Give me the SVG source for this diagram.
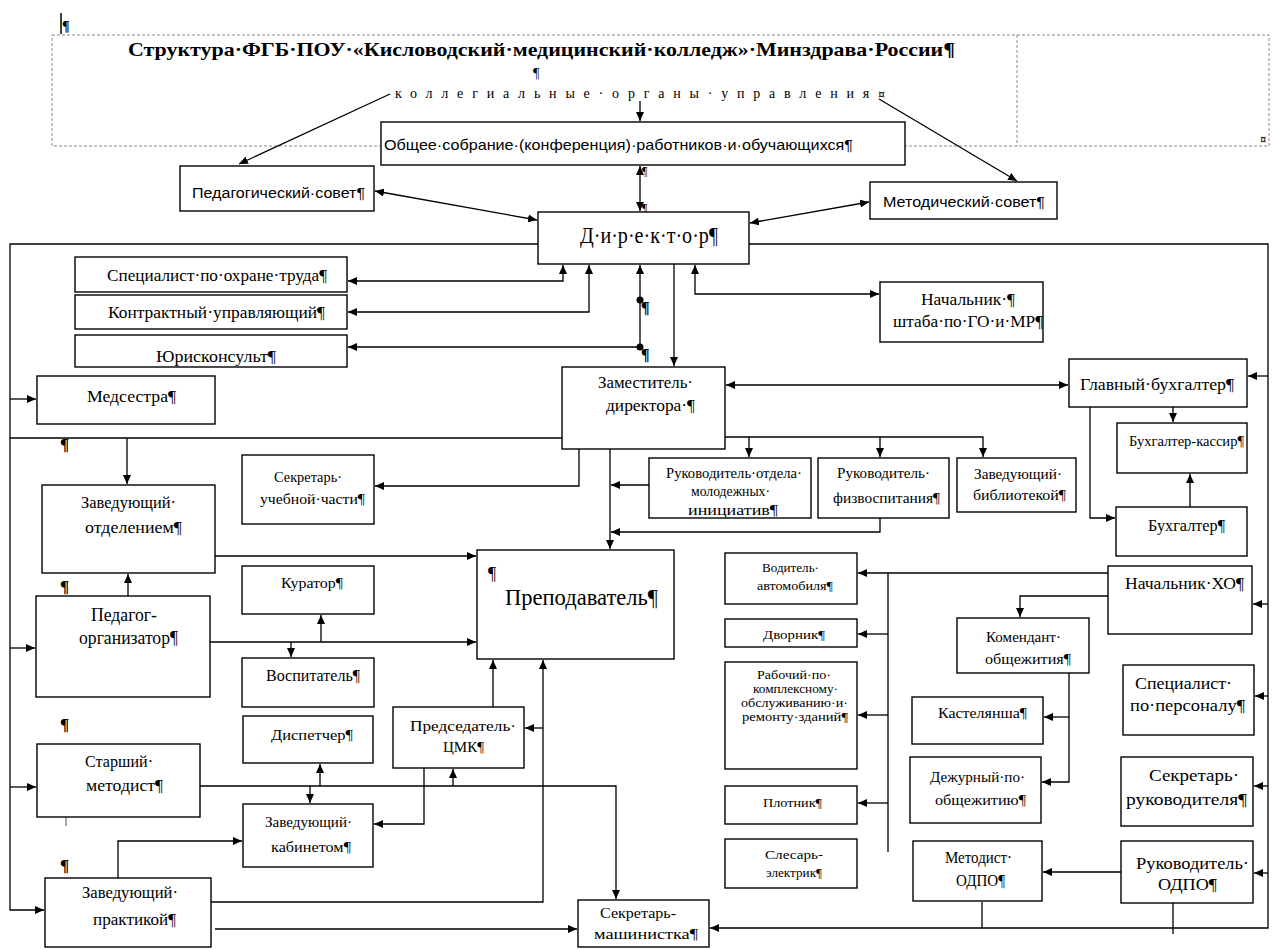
<svg xmlns="http://www.w3.org/2000/svg" width="1272" height="950" viewBox="0 0 1272 950">
<defs>
<style>
.s{font-family:"Liberation Serif","Times New Roman",serif;fill:#000}
.ss{font-family:"Liberation Sans",Arial,sans-serif;fill:#000}
.cur{font-family:"DejaVu Sans",sans-serif;fill:#000}
.box{fill:#fff;stroke:#000;stroke-width:1.4}
.ln{fill:none;stroke:#000;stroke-width:1.3}
.a{marker-end:url(#ah)}
.d{marker-start:url(#ah);marker-end:url(#ah)}
.dash{fill:none;stroke:#8a8a8a;stroke-width:1;stroke-dasharray:3 2}
</style>
<marker id="ah" viewBox="0 0 10 10" refX="10" refY="5" markerWidth="9" markerHeight="8" markerUnits="userSpaceOnUse" orient="auto-start-reverse" preserveAspectRatio="none">
<path d="M0,0 L10,5 L0,10 z" fill="#000"/>
</marker>
</defs>
<rect width="1272" height="950" fill="#fff"/>

<g id="header">
<line x1="61" y1="13" x2="61" y2="34" stroke="#000" stroke-width="1.5"/>
<text class="s" x="62" y="31" font-size="14" font-weight="bold">¶</text>
<rect class="dash" x="52" y="35" width="1217" height="111"/>
<line class="dash" x1="1017" y1="35" x2="1017" y2="146"/>
<text class="s" x="128" y="56" font-size="19" font-weight="bold" textLength="827" lengthAdjust="spacingAndGlyphs">Структура·ФГБ·ПОУ·«Кисловодский·медицинский·колледж»·Минздрава·России¶</text>
<text class="s" x="533" y="78" font-size="14">¶</text>
<text class="s" x="395" y="98" font-size="14" textLength="490" lengthAdjust="spacing">коллегиальные·органы·управления<tspan class="cur" font-size="11">¤</tspan></text>
<text class="cur" x="1260" y="143" font-size="10">¤</text>
</g>

<g id="connectors">
<path class="ln a" d="M390,94 L239,164"/>
<path class="ln a" d="M640,101 L640,121"/>
<path class="ln a" d="M879,99 L1017,181"/>
<path class="ln d" d="M640,166 L640,211"/>
<path class="ln d" d="M375,191 L537,220"/>
<path class="ln d" d="M869,202 L750,223"/>

<path class="ln a" d="M538,244 H10 V910 H44"/>
<path class="ln a" d="M10,399 H36"/>
<path class="ln a" d="M10,648 H35"/>
<path class="ln a" d="M10,787 H36"/>
<path class="ln" d="M10,438 H562"/>
<path class="ln a" d="M127,438 V484"/>

<path class="ln a" d="M749,244 H1268 V928 H710"/>
<path class="ln a" d="M1268,376 H1248"/>
<path class="ln a" d="M1268,604 H1253"/>
<path class="ln a" d="M1268,696 H1255"/>
<path class="ln a" d="M1268,786 H1254"/>
<path class="ln a" d="M1268,873 H1254"/>
<path class="ln" d="M982,902 V928"/>
<path class="ln" d="M1173,903 V934"/>

<path class="ln d" d="M563,265 V281 H348"/>
<path class="ln d" d="M589,265 V312 H348"/>
<path class="ln d" d="M640,265 V347 H348"/>
<path class="ln d" d="M695,265 V294 H879"/>
<path class="ln a" d="M674,264 V366"/>
<circle cx="640" cy="300" r="3.5" fill="#000"/>
<circle cx="640" cy="347" r="3.5" fill="#000"/>

<path class="ln d" d="M726,385 H1068"/>
<path class="ln a" d="M1173,407 V422"/>
<path class="ln a" d="M1090,407 V518 H1115"/>
<path class="ln a" d="M1190,507 V474"/>

<path class="ln a" d="M725,437 H983 V457"/>
<path class="ln a" d="M749,437 V457"/>
<path class="ln a" d="M880,437 V457"/>

<path class="ln a" d="M579,449 V486 H375"/>
<path class="ln a" d="M610,449 V549"/>
<path class="ln a" d="M649,485 H611"/>
<path class="ln a" d="M880,518 V532 H611"/>

<path class="ln a" d="M215,556 H476"/>
<path class="ln a" d="M210,642 H476"/>
<path class="ln a" d="M321,642 V615"/>
<path class="ln a" d="M291,642 V657"/>
<path class="ln a" d="M128,596 V574"/>
<path class="ln a" d="M493,707 V660"/>
<path class="ln a" d="M211,902 H543 V660"/>
<path class="ln a" d="M543,728 H525"/>

<path class="ln a" d="M200,786 H616 V899"/>
<path class="ln a" d="M320,786 V764"/>
<path class="ln a" d="M310,786 V803"/>
<path class="ln a" d="M453,786 V769"/>
<path class="ln a" d="M424,768 V824 H374"/>
<path class="ln a" d="M118,878 V841 H242"/>
<path class="ln a" d="M215,929 H577"/>

<path class="ln a" d="M1108,573 H858"/>
<path class="ln" d="M888,573 V852"/>
<path class="ln a" d="M888,634 H858"/>
<path class="ln a" d="M888,715 H858"/>
<path class="ln a" d="M888,803 H858" stroke-width="2.4"/>
<path class="ln a" d="M1108,596 H1020 V617"/>
<path class="ln a" d="M1069,673 V782 H1042"/>
<path class="ln a" d="M1069,717 H1044"/>
<path class="ln a" d="M1121,872 H1043"/>
</g>

<g id="marks">
<text class="s" x="642" y="175" font-size="12">¶</text>
<text class="s" x="642" y="212" font-size="12">¶</text>
<text class="s" x="641" y="313" font-size="16" font-weight="bold">¶</text>
<text class="s" x="641" y="360" font-size="16" font-weight="bold">¶</text>
<text class="s" x="60" y="450" font-size="17" font-weight="bold">¶</text>
<text class="s" x="60" y="592" font-size="17" font-weight="bold">¶</text>
<text class="s" x="60" y="730" font-size="17" font-weight="bold">¶</text>
<line x1="66" y1="817" x2="66" y2="826" stroke="#888" stroke-width="1.5"/>
<text class="s" x="60" y="871" font-size="17" font-weight="bold">¶</text>
</g>

<g id="n-obshee"><rect class="box" x="381" y="122" width="524" height="43"/><text class="ss" x="384" y="150" font-size="15" textLength="469" lengthAdjust="spacingAndGlyphs">Общее·собрание·(конференция)·работников·и·обучающихся¶</text></g>
<g id="n-pedsovet"><rect class="box" x="180" y="166" width="194" height="45"/><text class="ss" x="192" y="198" font-size="14" textLength="173" lengthAdjust="spacingAndGlyphs">Педагогический·совет¶</text></g>
<g id="n-metsovet"><rect class="box" x="870" y="182" width="187" height="37"/><text class="ss" x="883" y="207" font-size="14" textLength="162" lengthAdjust="spacingAndGlyphs">Методический·совет¶</text></g>
<g id="n-director"><rect class="box" x="538" y="212" width="211" height="52"/><text class="s" x="580" y="243" font-size="23" textLength="138" lengthAdjust="spacingAndGlyphs">Д·и·р·е·к·т·о·р¶</text></g>
<g id="n-spec-ot"><rect class="box" x="75" y="257" width="272" height="35"/><text class="s" x="107" y="281" font-size="16" textLength="220" lengthAdjust="spacingAndGlyphs">Специалист·по·охране·труда¶</text></g>
<g id="n-contract"><rect class="box" x="75" y="295" width="272" height="34"/><text class="s" x="108" y="318" font-size="16" textLength="217" lengthAdjust="spacingAndGlyphs">Контрактный·управляющий¶</text></g>
<g id="n-jurist"><rect class="box" x="75" y="335" width="272" height="32"/><text class="s" x="156" y="362" font-size="16" textLength="120" lengthAdjust="spacingAndGlyphs">Юрисконсульт¶</text></g>
<g id="n-medsestra"><rect class="box" x="37" y="376" width="178" height="48"/><text class="s" x="87" y="402" font-size="16" textLength="89" lengthAdjust="spacingAndGlyphs">Медсестра¶</text></g>
<g id="n-nachshtab"><rect class="box" x="880" y="282" width="163" height="60"/><text class="s" x="921" y="305" font-size="16" textLength="94" lengthAdjust="spacingAndGlyphs">Начальник·¶</text><text class="s" x="893" y="327" font-size="16" textLength="150" lengthAdjust="spacingAndGlyphs">штаба·по·ГО·и·МР¶</text></g>
<g id="n-zam"><rect class="box" x="562" y="367" width="163" height="82"/><text class="s" x="598" y="388" font-size="16" textLength="95" lengthAdjust="spacingAndGlyphs">Заместитель·</text><text class="s" x="606" y="411" font-size="16" textLength="89" lengthAdjust="spacingAndGlyphs">директора·¶</text></g>
<g id="n-glavbuh"><rect class="box" x="1069" y="359" width="178" height="48"/><text class="s" x="1080" y="390" font-size="17" textLength="154" lengthAdjust="spacingAndGlyphs">Главный·бухгалтер¶</text></g>
<g id="n-buhkassir"><rect class="box" x="1117" y="423" width="130" height="50"/><text class="s" x="1129" y="446" font-size="14" textLength="115" lengthAdjust="spacingAndGlyphs">Бухгалтер-кассир¶</text></g>
<g id="n-buh"><rect class="box" x="1116" y="507" width="131" height="49"/><text class="s" x="1148" y="531" font-size="16" textLength="77" lengthAdjust="spacingAndGlyphs">Бухгалтер¶</text></g>
<g id="n-sekruch"><rect class="box" x="242" y="455" width="132" height="69"/><text class="s" x="274" y="482" font-size="15" textLength="68" lengthAdjust="spacingAndGlyphs">Секретарь·</text><text class="s" x="260" y="504" font-size="15" textLength="105" lengthAdjust="spacingAndGlyphs">учебной·части¶</text></g>
<g id="n-rukmol"><rect class="box" x="649" y="458" width="162" height="60"/><text class="s" x="666" y="478" font-size="14" textLength="136" lengthAdjust="spacingAndGlyphs">Руководитель·отдела·</text><text class="s" x="691" y="496" font-size="14" textLength="79" lengthAdjust="spacingAndGlyphs">молодежных·</text><text class="s" x="688" y="515" font-size="14" textLength="90" lengthAdjust="spacingAndGlyphs">инициатив¶</text></g>
<g id="n-rukfiz"><rect class="box" x="818" y="458" width="131" height="60"/><text class="s" x="837" y="478" font-size="15" textLength="93" lengthAdjust="spacingAndGlyphs">Руководитель·</text><text class="s" x="833" y="503" font-size="15" textLength="107" lengthAdjust="spacingAndGlyphs">физвоспитания¶</text></g>
<g id="n-zavbib"><rect class="box" x="957" y="458" width="119" height="54"/><text class="s" x="974" y="479" font-size="15" textLength="88" lengthAdjust="spacingAndGlyphs">Заведующий·</text><text class="s" x="973" y="500" font-size="15" textLength="93" lengthAdjust="spacingAndGlyphs">библиотекой¶</text></g>
<g id="n-zavotd"><rect class="box" x="42" y="485" width="173" height="88"/><text class="s" x="81" y="508" font-size="17" textLength="95" lengthAdjust="spacingAndGlyphs">Заведующий·</text><text class="s" x="85" y="533" font-size="17" textLength="97" lengthAdjust="spacingAndGlyphs">отделением¶</text></g>
<g id="n-prep"><rect class="box" x="477" y="550" width="197" height="109"/><text class="s" x="488" y="580" font-size="18">¶</text><text class="s" x="505" y="605" font-size="24" textLength="153" lengthAdjust="spacingAndGlyphs">Преподаватель¶</text></g>
<g id="n-pedorg"><rect class="box" x="36" y="596" width="174" height="101"/><text class="s" x="91" y="621" font-size="18" textLength="66" lengthAdjust="spacingAndGlyphs">Педагог-</text><text class="s" x="79" y="644" font-size="18" textLength="99" lengthAdjust="spacingAndGlyphs">организатор¶</text></g>
<g id="n-kurator"><rect class="box" x="242" y="566" width="132" height="48"/><text class="s" x="281" y="588" font-size="15" textLength="62" lengthAdjust="spacingAndGlyphs">Куратор¶</text></g>
<g id="n-vospit"><rect class="box" x="242" y="658" width="132" height="49"/><text class="s" x="266" y="681" font-size="16" textLength="94" lengthAdjust="spacingAndGlyphs">Воспитатель¶</text></g>
<g id="n-dispetcher"><rect class="box" x="243" y="716" width="130" height="47"/><text class="s" x="271" y="740" font-size="14" textLength="82" lengthAdjust="spacingAndGlyphs">Диспетчер¶</text></g>
<g id="n-predsed"><rect class="box" x="393" y="707" width="131" height="61"/><text class="s" x="410" y="731" font-size="15" textLength="106" lengthAdjust="spacingAndGlyphs">Председатель·</text><text class="s" x="443" y="752" font-size="15" textLength="41" lengthAdjust="spacingAndGlyphs">ЦМК¶</text></g>
<g id="n-zavkab"><rect class="box" x="243" y="804" width="130" height="63"/><text class="s" x="265" y="827" font-size="15" textLength="87" lengthAdjust="spacingAndGlyphs">Заведующий·</text><text class="s" x="271" y="852" font-size="15" textLength="80" lengthAdjust="spacingAndGlyphs">кабинетом¶</text></g>
<g id="n-starmet"><rect class="box" x="37" y="744" width="163" height="73"/><text class="s" x="85" y="767" font-size="17" textLength="68" lengthAdjust="spacingAndGlyphs">Старший·</text><text class="s" x="86" y="791" font-size="17" textLength="77" lengthAdjust="spacingAndGlyphs">методист¶</text></g>
<g id="n-zavprak"><rect class="box" x="45" y="878" width="166" height="69"/><text class="s" x="82" y="898" font-size="17" textLength="96" lengthAdjust="spacingAndGlyphs">Заведующий·</text><text class="s" x="93" y="925" font-size="17" textLength="83" lengthAdjust="spacingAndGlyphs">практикой¶</text></g>
<g id="n-sekrmash"><rect class="box" x="578" y="900" width="131" height="47"/><text class="s" x="600" y="918" font-size="14" textLength="76" lengthAdjust="spacingAndGlyphs">Секретарь-</text><text class="s" x="594" y="939" font-size="14" textLength="104" lengthAdjust="spacingAndGlyphs">машинистка¶</text></g>
<g id="n-voditel"><rect class="box" x="725" y="553" width="132" height="51"/><text class="s" x="762" y="572" font-size="13" textLength="57" lengthAdjust="spacingAndGlyphs">Водитель·</text><text class="s" x="757" y="590" font-size="13" textLength="76" lengthAdjust="spacingAndGlyphs">автомобиля¶</text></g>
<g id="n-dvornik"><rect class="box" x="725" y="619" width="132" height="28"/><text class="s" x="763" y="639" font-size="13" textLength="62" lengthAdjust="spacingAndGlyphs">Дворник¶</text></g>
<g id="n-rabochiy"><rect class="box" x="725" y="662" width="132" height="107"/><text class="s" x="757" y="679" font-size="13" textLength="74" lengthAdjust="spacingAndGlyphs">Рабочий·по·</text><text class="s" x="753" y="693" font-size="13" textLength="85" lengthAdjust="spacingAndGlyphs">комплексному·</text><text class="s" x="741" y="707" font-size="13" textLength="107" lengthAdjust="spacingAndGlyphs">обслуживанию·и·</text><text class="s" x="742" y="721" font-size="13" textLength="106" lengthAdjust="spacingAndGlyphs">ремонту·зданий¶</text></g>
<g id="n-plotnik"><rect class="box" x="725" y="786" width="132" height="38"/><text class="s" x="763" y="807" font-size="13" textLength="59" lengthAdjust="spacingAndGlyphs">Плотник¶</text></g>
<g id="n-slesar"><rect class="box" x="725" y="839" width="132" height="49"/><text class="s" x="765" y="859" font-size="13" textLength="58" lengthAdjust="spacingAndGlyphs">Слесарь-</text><text class="s" x="766" y="877" font-size="13" textLength="56" lengthAdjust="spacingAndGlyphs">электрик¶</text></g>
<g id="n-nachxo"><rect class="box" x="1108" y="566" width="144" height="68"/><text class="s" x="1125" y="589" font-size="17" textLength="119" lengthAdjust="spacingAndGlyphs">Начальник·ХО¶</text></g>
<g id="n-komendant"><rect class="box" x="957" y="618" width="132" height="55"/><text class="s" x="986" y="642" font-size="15" textLength="75" lengthAdjust="spacingAndGlyphs">Комендант·</text><text class="s" x="985" y="664" font-size="15" textLength="86" lengthAdjust="spacingAndGlyphs">общежития¶</text></g>
<g id="n-kastel"><rect class="box" x="912" y="697" width="131" height="47"/><text class="s" x="938" y="718" font-size="15" textLength="89" lengthAdjust="spacingAndGlyphs">Кастелянша¶</text></g>
<g id="n-dezhur"><rect class="box" x="910" y="757" width="131" height="66"/><text class="s" x="930" y="782" font-size="15" textLength="95" lengthAdjust="spacingAndGlyphs">Дежурный·по·</text><text class="s" x="935" y="805" font-size="15" textLength="91" lengthAdjust="spacingAndGlyphs">общежитию¶</text></g>
<g id="n-specpers"><rect class="box" x="1123" y="665" width="131" height="70"/><text class="s" x="1135" y="689" font-size="17" textLength="97" lengthAdjust="spacingAndGlyphs">Специалист·</text><text class="s" x="1130" y="711" font-size="17" textLength="115" lengthAdjust="spacingAndGlyphs">по·персоналу¶</text></g>
<g id="n-sekruk"><rect class="box" x="1121" y="757" width="132" height="69"/><text class="s" x="1149" y="781" font-size="17" textLength="90" lengthAdjust="spacingAndGlyphs">Секретарь·</text><text class="s" x="1126" y="805" font-size="17" textLength="121" lengthAdjust="spacingAndGlyphs">руководителя¶</text></g>
<g id="n-rukodpo"><rect class="box" x="1121" y="841" width="132" height="62"/><text class="s" x="1136" y="869" font-size="17" textLength="113" lengthAdjust="spacingAndGlyphs">Руководитель·</text><text class="s" x="1158" y="890" font-size="17" textLength="59" lengthAdjust="spacingAndGlyphs">ОДПО¶</text></g>
<g id="n-metodpo"><rect class="box" x="913" y="841" width="129" height="60"/><text class="s" x="945" y="863" font-size="16" textLength="67" lengthAdjust="spacingAndGlyphs">Методист·</text><text class="s" x="956" y="886" font-size="16" textLength="49" lengthAdjust="spacingAndGlyphs">ОДПО¶</text></g>
</svg>
